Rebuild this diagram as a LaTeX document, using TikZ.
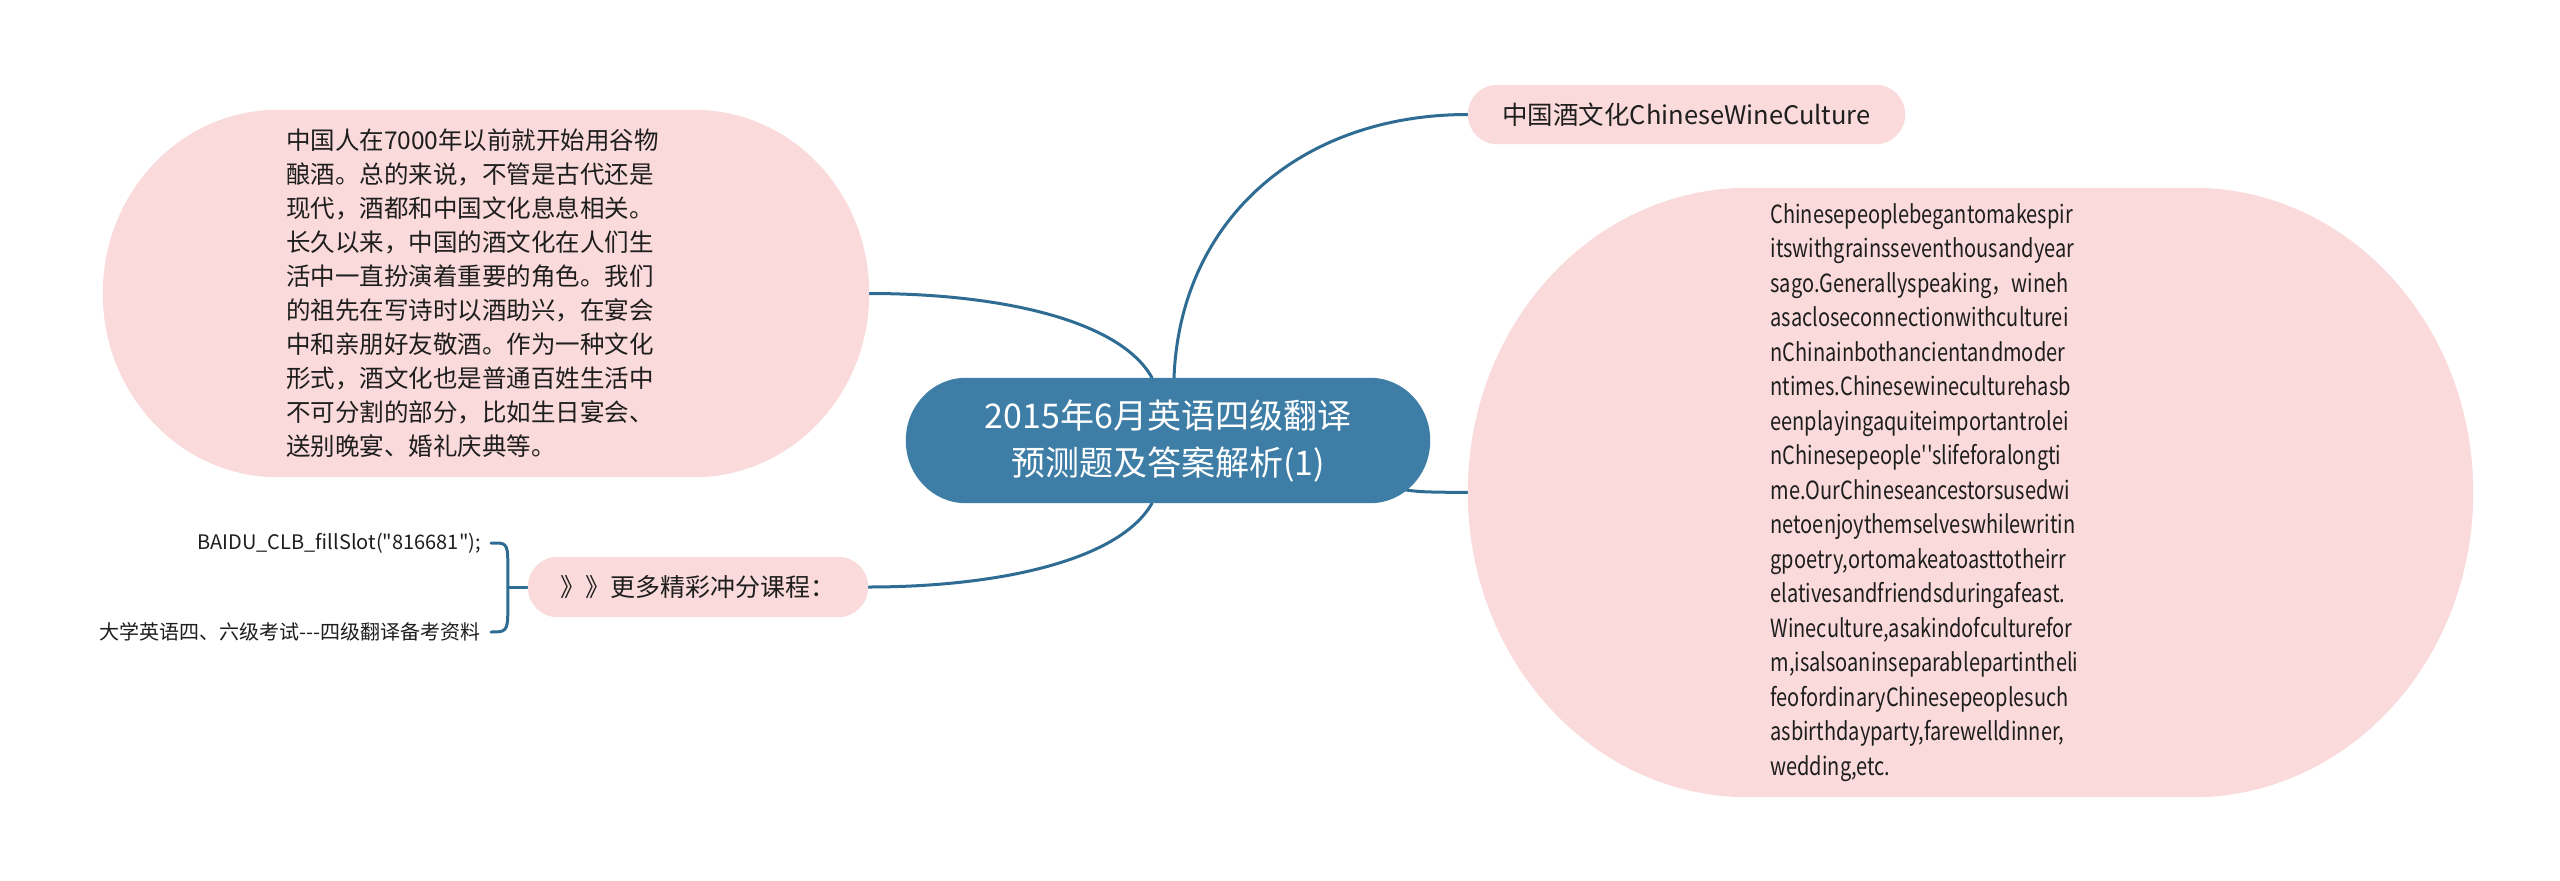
\documentclass[tikz,border=0pt]{standalone}
\usepackage{fontspec}
\usepackage{graphicx}
\setmainfont{Noto Sans CJK SC}[Ligatures=TeXOff]
\usetikzlibrary{calc,backgrounds}
\definecolor{pinkc}{HTML}{FADADA}
\definecolor{bluec}{HTML}{3E7EA6}
\definecolor{linec}{HTML}{2F6C93}
\definecolor{txtc}{HTML}{1E1E1E}
\newcommand\rbox[4]{%
  \fill[#4] ($(#1.north west)+(#2,0)$) -- ($(#1.north east)+(-#2,0)$)
    arc[start angle=-90,end angle=0,x radius=#2,y radius=#3]
    -- ($(#1.south east)+(0,-#3)$)
    arc[start angle=0,end angle=90,x radius=#2,y radius=#3]
    -- ($(#1.south west)+(#2,0)$)
    arc[start angle=90,end angle=180,x radius=#2,y radius=#3]
    -- ($(#1.north west)+(0,#3)$)
    arc[start angle=180,end angle=270,x radius=#2,y radius=#3] -- cycle;}
\begin{document}
\begin{tikzpicture}[x=1pt,y=-1pt,
  holder/.style={rectangle,inner sep=0pt,text=txtc},
  conn/.style={draw=linec,line width=3pt,line cap=round}]
\useasboundingbox (0,0) rectangle (2560,881);

% nodes
\node[holder,minimum width=524,minimum height=125,align=center,text=white,
  font=\fontsize{34}{47}\selectfont] (root) at (1168,440.5)
  {2015年6月英语四级翻译\\预测题及答案解析(1)};

\node[holder,minimum width=437,minimum height=59,font=\fontsize{25.5}{28}\selectfont]
  (wine) at (1686.5,114.5) {中国酒文化ChineseWineCulture};

\node[holder,minimum width=766,minimum height=367,text width=400,align=left,
  font=\fontsize{24.5}{34}\selectfont] (zh) at (486,293.5)
  {中国人在7000年以前就开始用谷物\\
   酿酒。总的来说，不管是古代还是\\
   现代，酒都和中国文化息息相关。\\
   长久以来，中国的酒文化在人们生\\
   活中一直扮演着重要的角色。我们\\
   的祖先在写诗时以酒助兴，在宴会\\
   中和亲朋好友敬酒。作为一种文化\\
   形式，酒文化也是普通百姓生活中\\
   不可分割的部分，比如生日宴会、\\
   送别晚宴、婚礼庆典等。};

\node[holder,minimum width=1005,minimum height=609] (en) at (1970.5,492.5)
  {\scalebox{0.8}[1]{\begin{minipage}{500pt}\fontsize{25}{34.5}\selectfont\raggedright
   Chinesepeoplebegantomakespir\\
   itswithgrainsseventhousandyear\\
   sago.Generallyspeaking，wineh\\
   asacloseconnectionwithculturei\\
   nChinainbothancientandmoder\\
   ntimes.Chinesewineculturehasb\\
   eenplayingaquiteimportantrolei\\
   nChinesepeople''slifeforalongti\\
   me.OurChineseancestorsusedwi\\
   netoenjoythemselveswhilewritin\\
   gpoetry,ortomakeatoasttotheirr\\
   elativesandfriendsduringafeast.\\
   Wineculture,asakindofculturefor\\
   m,isalsoaninseparablepartintheli\\
   feofordinaryChinesepeoplesuch\\
   asbirthdayparty,farewelldinner,\\
   wedding,etc.\end{minipage}}};

\node[holder,minimum width=340,minimum height=60,font=\fontsize{25}{28}\selectfont]
  (more) at (698,587) {》》更多精彩冲分课程：};

\node[holder,anchor=east,font=\fontsize{20}{24}\selectfont] (leaf1) at (481,543)
  {BAIDU\_CLB\_fillSlot("816681");};
\node[holder,anchor=east,font=\fontsize{20}{24}\selectfont] (leaf2) at (481,632)
  {大学英语四、六级考试---四级翻译备考资料};

\coordinate (j) at ($(more.west)+(-20,0)$);

\begin{scope}[on background layer]
  \fill[white] (0,0) rectangle (2560,881);
  % connectors
  \draw[conn] ($(root.north)+(6,0)$) .. controls (1180,220) and (1300,114.5) .. (wine.west);
  \draw[conn] (zh.east) .. controls (1000,293.5) and (1120,320) .. ($(root.north)+(-16,0)$);
  \draw[conn] ($(root.south east)+(-30,-14)$) .. controls (1420,492) .. (en.west);
  \draw[conn] ($(root.south)+(-16,0)$) .. controls (1120,560) and (1000,587) .. (more.east);
  \draw[conn] (more.west) -- (j);
  \draw[conn] ([xshift=10pt]leaf1.east) .. controls +(14,0) and +(0,-20) .. ($(j)+(0,-25)$)
     -- (j) -- ($(j)+(0,25)$) .. controls +(0,20) and +(14,0) .. ([xshift=10pt]leaf2.east);
  % shapes
  \rbox{root}{60}{62.5}{bluec}
  \rbox{wine}{29.5}{29.5}{pinkc}
  \rbox{zh}{175}{183.5}{pinkc}
  \rbox{en}{280}{304.5}{pinkc}
  \rbox{more}{30}{30}{pinkc}
\end{scope}
\end{tikzpicture}
\end{document}
